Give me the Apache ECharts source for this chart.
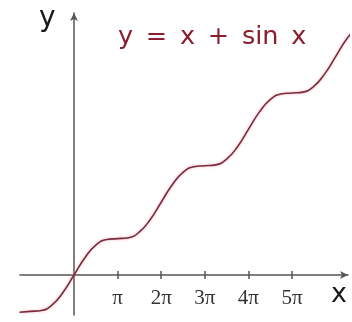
<!DOCTYPE html>
<html>
<head>
<meta charset="utf-8">
<script src="https://cdn.jsdelivr.net/npm/echarts@6/dist/echarts.min.js"></script>
<style>
  html, body { margin: 0; padding: 0; background: #fff; }
  #chart { width: 352px; height: 322px; }
</style>
</head>
<body>
<div id="chart"></div>
<script>
// x and y in units of pi
var xs = [-1.25, -1, -0.75, -0.5, -0.25, 0, 0.25, 0.5, 0.75, 1, 1.25, 1.5, 1.75,
          2, 2.25, 2.5, 2.75, 3, 3.25, 3.5, 3.75, 4, 4.25, 4.5, 4.75, 5,
          5.25, 5.5, 5.75, 6, 6.25, 6.5];
var ys = [-1.025, -1, -0.975, -0.818, -0.475, 0, 0.475, 0.818, 0.975, 1, 1.025, 1.182, 1.525,
          2, 2.475, 2.818, 2.975, 3, 3.025, 3.182, 3.525, 4, 4.475, 4.818, 4.975, 5,
          5.025, 5.182, 5.525, 6, 6.475, 6.818];
var tickValues = [1, 2, 3, 4, 5];
var tickLabels = ['π', '2π', '3π', '4π', '5π'];
var titleText = 'y\u2002=\u2002x\u2002+\u2002sin\u2002x';

var points = xs.map(function (x, i) { return [x, ys[i]]; });
var axisColor = '#555';

var chart = echarts.init(document.getElementById('chart'));
// x axis sits 40px above the grid bottom (where y = 0)
var xBase = {
  type: 'value',
  min: -1.2385,
  max: 6.284,
  position: 'bottom',
  offset: -40,
  splitLine: { show: false }
};
chart.setOption({
  animation: false,
  title: {
    text: titleText,
    left: 113,
    top: 19,
    textStyle: { fontFamily: 'DejaVu Sans', fontSize: 25.5, fontWeight: 'normal', color: '#8a1e2e' }
  },
  grid: { left: 20, right: 4, top: 13, bottom: 7, containLabel: false, outerBoundsMode: 'none' },
  xAxis: [
    Object.assign({}, xBase, {
      axisLine: { onZero: false, symbol: ['none', 'arrow'], symbolSize: [6, 8],
        lineStyle: { color: axisColor, width: 1.5 } },
      axisTick: { customValues: tickValues, length: 4, lineStyle: { color: axisColor, width: 1.5 } },
      axisLabel: {
        customValues: tickValues,
        margin: 13,
        fontFamily: 'Liberation Serif',
        fontSize: 21,
        color: '#333',
        formatter: function (v) { return tickLabels[tickValues.indexOf(v)]; }
      }
    }),
    Object.assign({}, xBase, {
      axisLine: { show: false, onZero: false },
      axisTick: { customValues: tickValues, inside: true, length: 4, lineStyle: { color: axisColor, width: 1.5 } },
      axisLabel: { show: false }
    })
  ],
  yAxis: {
    type: 'value',
    min: -1.099,
    max: 7.198,
    splitLine: { show: false },
    axisTick: { show: false },
    axisLabel: { show: false },
    axisLine: { onZero: true, symbol: ['none', 'arrow'], symbolSize: [6, 8],
      lineStyle: { color: axisColor, width: 1.5 } }
  },
  graphic: [
    { type: 'text', left: 331, top: 281,
      style: { text: 'x', fontFamily: 'DejaVu Sans', fontSize: 27, fill: '#1a1a1a' } },
    { type: 'text', left: 39, top: 5,
      style: { text: 'y', fontFamily: 'DejaVu Sans', fontSize: 28, fill: '#1a1a1a' } }
  ],
  series: [{
    type: 'line',
    data: points,
    smooth: true,
    showSymbol: false,
    lineStyle: { color: '#7a2c3c', width: 1.6, shadowColor: 'rgba(230,120,140,0.6)', shadowBlur: 3 }
  }]
});
</script>
</body>
</html>
